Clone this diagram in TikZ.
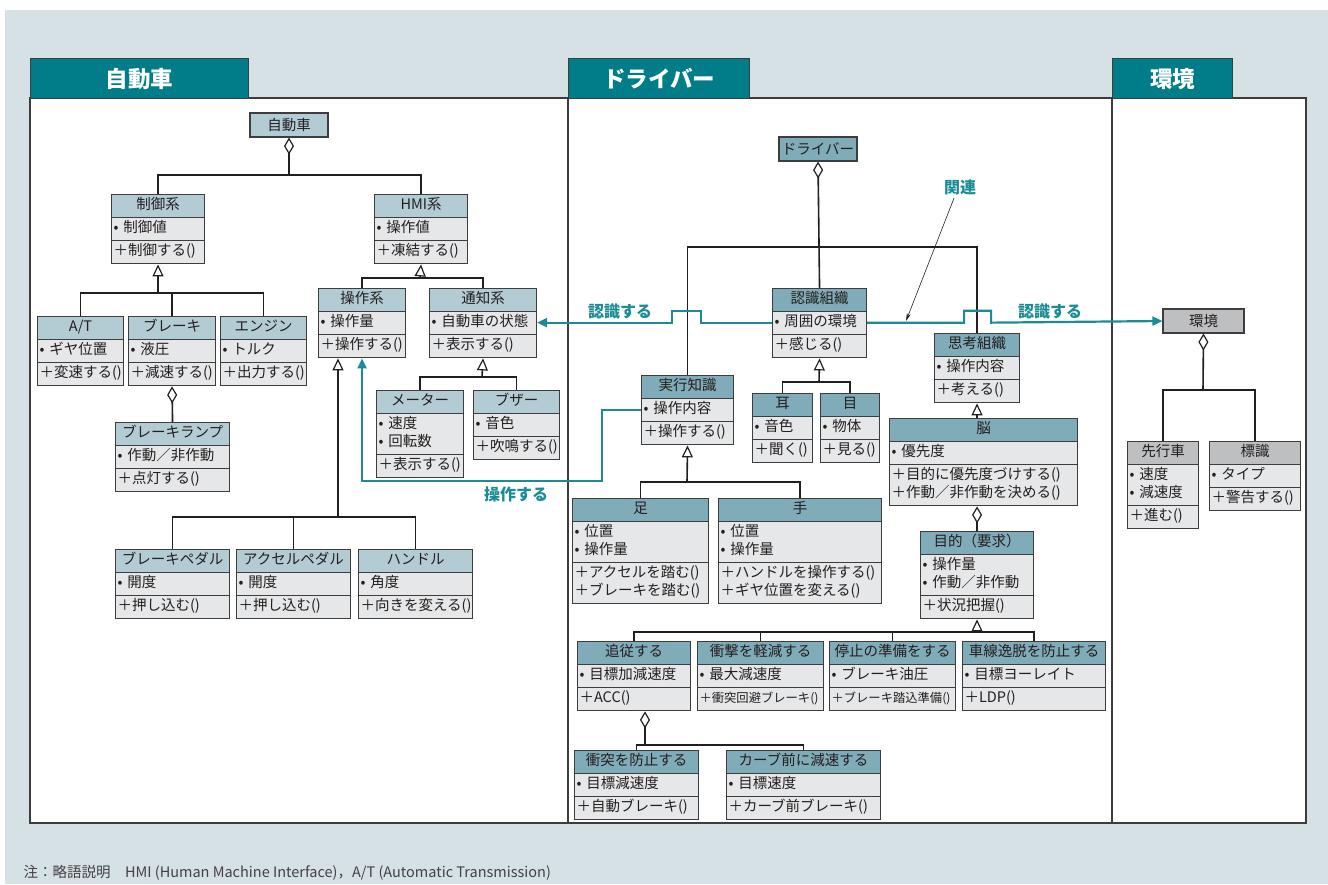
\documentclass[tikz,border=0pt]{standalone}
\usepackage{fontspec}
\setmainfont{Noto Sans CJK JP}
\usetikzlibrary{shapes.multipart,arrows.meta}

\definecolor{bgblue}{HTML}{D6E1E6}
\definecolor{tabteal}{HTML}{007D88}
\definecolor{linkteal}{HTML}{1B8C96}
\definecolor{hdcar}{HTML}{B3CBD3}
\definecolor{hddrv}{HTML}{80ABB8}
\definecolor{hdenv}{HTML}{BEBFC1}
\definecolor{cell}{HTML}{E6E7E8}
\definecolor{rim}{HTML}{3D3D3D}
\definecolor{ink}{HTML}{231F20}

% one line of a class box
\newcommand{\clhead}[1]{\strut\hfill #1\hfill\null}
\newcommand{\clattr}[1]{\strut• #1}
\newcommand{\cloper}[1]{\strut＋#1()}

\tikzset{
	cls/.style={rectangle split, rectangle split parts=3, draw=rim, line width=1.1pt,
		inner xsep=2pt, inner ysep=2pt, align=left, anchor=north west,
		font=\fontsize{14.5}{18}\selectfont, text=ink},
	car/.style={cls, rectangle split part fill={hdcar,cell}, text width=#1-4},
	drv/.style={cls, rectangle split part fill={hddrv,cell}, text width=#1-4},
	env/.style={cls, rectangle split part fill={hdenv,cell}, text width=#1-4},
	rootbox/.style={draw=rim, line width=1.1pt, minimum width=78, minimum height=24,
		inner sep=0pt, font=\fontsize{14.5}{18}\selectfont, text=ink},
	tabbox/.style={draw=rim, line width=1.1pt, fill=tabteal, text=white, anchor=north west,
		minimum height=40, font=\fontsize{22.5}{26}\selectfont\bfseries},
	wire/.style={draw=ink, line width=1.6pt},
	inh/.style={wire, -{Triangle[open, length=12pt, width=11pt, line width=1.2pt]}},
	agg/.style={wire, -{Diamond[open, length=17pt, width=10pt, line width=1.2pt]}},
	link/.style={draw=linkteal, line width=2.2pt, -{Triangle[length=10pt, width=9pt]}},
	linklabel/.style={text=linkteal, font=\fontsize{16}{19}\selectfont\bfseries},
}

\begin{document}
\begin{tikzpicture}[x=1pt, y=-1pt]
	\useasboundingbox (0,0) rectangle (1328,884);
	\fill[bgblue] (5,10) rectangle (1328,884);
	\draw[rim, line width=1.1pt, fill=white] (30,98) rectangle (1306,823);
	\draw[rim, line width=1.1pt] (568,98) -- (568,823) (1112,98) -- (1112,823);
	\node[tabbox, minimum width=218] (tabcar) at (30,58) {自動車};
	\node[tabbox, minimum width=181] (tabdrv) at (568,58) {ドライバー};
	\node[tabbox, minimum width=120] (tabenv) at (1112,58) {環境};

	% 自動車
	\node[rootbox, fill=hdcar] (jidosha) at (289,125) {自動車};
	\node[car=93] (seigyo) at (111,194) {\clhead{制御系}\nodepart{two}\clattr{制御値}\nodepart{three}\cloper{制御する}};
	\node[car=93] (hmi) at (374,194) {\clhead{HMI系}\nodepart{two}\clattr{操作値}\nodepart{three}\cloper{凍結する}};
	\node[car=86] (at) at (37,316) {\clhead{A/T}\nodepart{two}\clattr{ギヤ位置}\nodepart{three}\cloper{変速する}};
	\node[car=87] (brake) at (128,316) {\clhead{ブレーキ}\nodepart{two}\clattr{液圧}\nodepart{three}\cloper{減速する}};
	\node[car=86] (engine) at (220,316) {\clhead{エンジン}\nodepart{two}\clattr{トルク}\nodepart{three}\cloper{出力する}};
	\node[car=114] (lamp) at (115,422) {\clhead{ブレーキランプ}\nodepart{two}\clattr{作動／非作動}\nodepart{three}\cloper{点灯する}};
	\node[car=87] (sosa) at (318,288) {\clhead{操作系}\nodepart{two}\clattr{操作量}\nodepart{three}\cloper{操作する}};
	\node[car=107] (tsuchi) at (429,288) {\clhead{通知系}\nodepart{two}\clattr{自動車の状態}\nodepart{three}\cloper{表示する}};
	\node[car=87] (meter) at (376,390) {\clhead{メーター}\nodepart{two}\clattr{速度}\\\clattr{回転数}\nodepart{three}\cloper{表示する}};
	\node[car=86] (buzzer) at (473,390) {\clhead{ブザー}\nodepart{two}\clattr{音色}\nodepart{three}\cloper{吹鳴する}};
	\node[car=114] (bpedal) at (115,549) {\clhead{ブレーキペダル}\nodepart{two}\clattr{開度}\nodepart{three}\cloper{押し込む}};
	\node[car=114] (apedal) at (236,549) {\clhead{アクセルペダル}\nodepart{two}\clattr{開度}\nodepart{three}\cloper{押し込む}};
	\node[car=114] (handle) at (358,549) {\clhead{ハンドル}\nodepart{two}\clattr{角度}\nodepart{three}\cloper{向きを変える}};

	\coordinate (carbus) at (289,175);
	\coordinate (seigyobus) at (158,293);
	\coordinate (hmibus) at (420,278);
	\coordinate (tsuchibus) at (482,377);
	\coordinate (sosabus) at (338,517);
	\draw[wire] (seigyo.north) |- (carbus) -| (hmi.north);
	\draw[agg] (carbus) -- (jidosha.south);
	\draw[wire] (at.north) |- (seigyobus) -| (engine.north);
	\draw[wire] (brake.north) -- (brake.north |- seigyobus);
	\draw[inh] (seigyobus) -- (seigyo.south);
	\draw[agg] (lamp.north) -- (brake.south);
	\draw[wire] (sosa.north) |- (hmibus) -| (tsuchi.north);
	\draw[inh] (hmibus) -- (hmi.south);
	\draw[wire] (meter.north) |- (tsuchibus) -| (buzzer.north);
	\draw[inh] (tsuchibus) -- (tsuchi.south);
	\draw[wire] (bpedal.north) |- (sosabus) -| (handle.north);
	\draw[wire] (apedal.north) -- (apedal.north |- sosabus);
	\draw[inh] (sosabus) -- (sosabus |- sosa.south);

	% ドライバー
	\node[rootbox, fill=hddrv] (driver) at (818,149) {ドライバー};
	\node[drv=94] (ninshiki) at (772,288) {\clhead{認識組織}\nodepart{two}\clattr{周囲の環境}\nodepart{three}\cloper{感じる}};
	\node[drv=92] (jikko) at (641,375) {\clhead{実行知識}\nodepart{two}\clattr{操作内容}\nodepart{three}\cloper{操作する}};
	\node[drv=60] (mimi) at (752,393) {\clhead{耳}\nodepart{two}\clattr{音色}\nodepart{three}\cloper{聞く}};
	\node[drv=59] (me) at (820,393) {\clhead{目}\nodepart{two}\clattr{物体}\nodepart{three}\cloper{見る}};
	\node[drv=85] (shikou) at (934,333) {\clhead{思考組織}\nodepart{two}\clattr{操作内容}\nodepart{three}\cloper{考える}};
	\node[drv=188] (nou) at (889,418) {\clhead{脳}\nodepart{two}\clattr{優先度}\nodepart{three}\cloper{目的に優先度づけする}\\\cloper{作動／非作動を決める}};
	\node[drv=113] (mokuteki) at (920,531) {\clhead{目的（要求）}\nodepart{two}\clattr{操作量}\\\clattr{作動／非作動}\nodepart{three}\cloper{状況把握}};
	\node[drv=136] (ashi) at (572,498) {\clhead{足}\nodepart{two}\clattr{位置}\\\clattr{操作量}\nodepart{three}\cloper{アクセルを踏む}\\\cloper{ブレーキを踏む}};
	\node[drv=163] (te) at (718,498) {\clhead{手}\nodepart{two}\clattr{位置}\\\clattr{操作量}\nodepart{three}\cloper{ハンドルを操作する}\\\cloper{ギヤ位置を変える}};
	\node[drv=113] (tsuiju) at (577,641) {\clhead{追従する}\nodepart{two}\clattr{目標加減速度}\nodepart{three}\cloper{ACC}};
	\node[drv=126] (shogeki) at (697,641) {\clhead{衝撃を軽減する}\nodepart{two}\clattr{最大減速度}\nodepart{three}{\fontsize{12.3}{18}\selectfont\cloper{衝突回避ブレーキ}}};
	\node[drv=126] (teishi) at (829,641) {\clhead{停止の準備をする}\nodepart{two}\clattr{ブレーキ油圧}\nodepart{three}{\fontsize{12.3}{18}\selectfont\cloper{ブレーキ踏込準備}}};
	\node[drv=143] (shasen) at (962,641) {\clhead{車線逸脱を防止する}\nodepart{two}\clattr{目標ヨーレイト}\nodepart{three}\cloper{LDP}};
	\node[drv=124] (shototsu) at (574,750) {\clhead{衝突を防止する}\nodepart{two}\clattr{目標減速度}\nodepart{three}\cloper{自動ブレーキ}};
	\node[drv=154] (curve) at (726,750) {\clhead{カーブ前に減速する}\nodepart{two}\clattr{目標速度}\nodepart{three}\cloper{カーブ前ブレーキ}};

	\coordinate (drvbus) at (818,247);
	\coordinate (ninbus) at (819,382);
	\coordinate (jikkobus) at (687,482);
	\coordinate (mokbus) at (977,632);
	\coordinate (tsuibus) at (645,745);
	\draw[agg] (ninshiki.north) -- (driver.south);
	\draw[wire] (jikko.north) |- (drvbus) -| (shikou.north);
	\draw[wire] (mimi.north) |- (ninbus) -| (me.north);
	\draw[inh] (ninbus) -- (ninshiki.south);
	\draw[wire] (ashi.north) |- (jikkobus) -| (te.north);
	\draw[inh] (jikkobus) -- (jikko.south);
	\draw[inh] (shikou.south |- nou.north) -- (shikou.south);
	\draw[agg] (mokuteki.north) -- (mokuteki.north |- nou.south);
	\draw[wire] (tsuiju.north) |- (mokbus) -| (shasen.north);
	\draw[wire] (shogeki.north) -- (shogeki.north |- mokbus);
	\draw[wire] (teishi.north) -- (teishi.north |- mokbus);
	\draw[inh] (mokbus) -- (mokuteki.south);
	\draw[wire] (shototsu.north) |- (tsuibus) -| (curve.north);
	\draw[agg] (tsuibus) -- (tsuibus |- tsuiju.south);

	% 環境
	\node[rootbox, fill=hdenv, minimum width=81] (kankyo) at (1203.5,321) {環境};
	\node[env=71] (senko) at (1127,441) {\clhead{先行車}\nodepart{two}\clattr{速度}\\\clattr{減速度}\nodepart{three}\cloper{進む}};
	\node[env=91] (hyoshiki) at (1209,441) {\clhead{標識}\nodepart{two}\clattr{タイプ}\nodepart{three}\cloper{警告する}};
	\coordinate (envbus) at (1203,390);
	\draw[wire] (senko.north) |- (envbus) -| (hyoshiki.north);
	\draw[agg] (envbus) -- (kankyo.south);

	% 関連
	\draw[link] ([yshift=-11pt]ninshiki.text split west) -- ++(-71,0) -- ++(0,-12) -- ++(-29,0) -- ++(0,12) -- ([yshift=-11pt]tsuchi.text split east);
	\draw[link] ([yshift=-11pt]ninshiki.text split east) -- ++(97,0) -- ++(0,-12) -- ++(27,0) -- ++(0,12) -- (kankyo.west);
	\draw[link] ([yshift=-11pt]jikko.text split west) -- ++(-39,0) -- ++(0,71) -| (sosa.south);
	\node[linklabel] (ninlabel) at (620,311) {認識する};
	\node[linklabel] (envlabel) at (1050,311) {認識する};
	\node[linklabel] (sosalabel) at (516,494) {操作する};
	\node[linklabel] (kanren) at (960,187) {関連};
	\coordinate (kanrenpt) at (906,321);
	\draw[ink, line width=0.6pt, -{Stealth[length=8pt, width=4pt]}] ([xshift=-6pt]kanren.south) -- (kanrenpt);

	\node[anchor=west, font=\fontsize{14.5}{17}\selectfont, text=ink!85] (note) at (20,873) {注：略語説明　HMI (Human Machine Interface)，A/T (Automatic Transmission)};
\end{tikzpicture}
\end{document}
